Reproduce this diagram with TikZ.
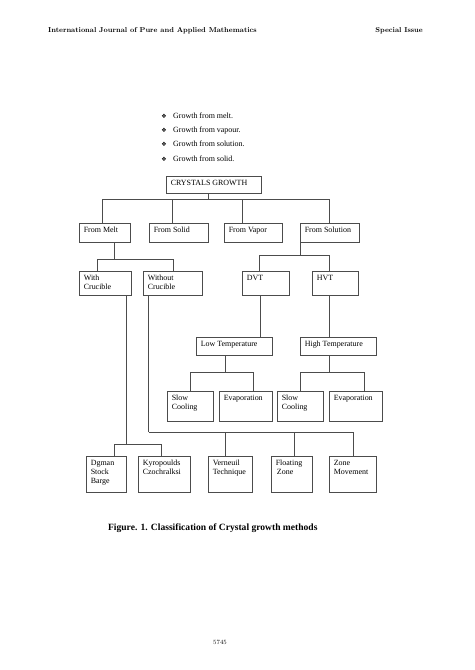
\documentclass[tikz,border=0pt]{standalone}
\usepackage{fontspec}
\newfontfamily\tms{Liberation Serif}
\newfontfamily\dvs{DejaVu Sans}
\usetikzlibrary{fit,calc}
\newdimen\pxu \pxu=1.2559pt
\newcommand\mybox[6]{%
  \node[boxst, fit={(#2,#3) (#4,#5)}] (#1) {};
  \node[txt] (#1-t) at ([xshift=5\pxu, yshift=-4.5\pxu]#1.north west) {#6};}
\begin{document}
\begin{tikzpicture}[x=1.2559pt,y=-1.2559pt,
  boxst/.style={draw=black!70, line width=0.9pt, inner sep=0pt},
  txt/.style={font=\tms\fontsize{10}{11.5}\selectfont, align=left, inner sep=0pt, anchor=north west},
  conn/.style={draw=black!70, line width=0.9pt},
  bul/.style={font=\dvs\fontsize{7.5}{8}\selectfont, inner sep=0pt, anchor=base},
  bultxt/.style={font=\tms\fontsize{10}{12}\selectfont, inner sep=0pt, anchor=base west}]
\useasboundingbox (0,0) rectangle (474,670);
\fill[white] (0,0) rectangle (474,670);
% header
\node[font=\fontsize{9}{11}\selectfont\bfseries, inner sep=0pt, anchor=base west] (hdl) at (48,33) {International Journal of Pure and Applied Mathematics};
\node[font=\fontsize{9}{11}\selectfont\bfseries, inner sep=0pt, anchor=base east] (hdr) at (423,33) {Special Issue};
% bullets
\node[bul] (b1) at (164,118.5) {❖};
\node[bultxt] (t1) at (173,118.5) {Growth from melt.};
\node[bul] (b2) at (164,132.7) {❖};
\node[bultxt] (t2) at (173,132.7) {Growth from vapour.};
\node[bul] (b3) at (164,146.9) {❖};
\node[bultxt] (t3) at (173,146.9) {Growth from solution.};
\node[bul] (b4) at (164,161.1) {❖};
\node[bultxt] (t4) at (173,161.1) {Growth from solid.};
% boxes
\mybox{cg}{166}{176}{261}{193}{CRYSTALS GROWTH}
\mybox{melt}{79}{223}{130}{242}{From Melt}
\mybox{solid}{149}{223}{208}{242}{From Solid}
\mybox{vapor}{224}{223}{282}{242}{From Vapor}
\mybox{solution}{300}{223}{359}{242}{From Solution}
\mybox{withc}{79}{271}{131}{295}{With\\Crucible}
\mybox{withoutc}{143}{271}{202}{295}{Without\\Crucible}
\mybox{dvt}{242}{271}{289}{295}{DVT}
\mybox{hvt}{312}{271}{358}{295}{HVT}
\mybox{lowt}{196}{337}{272}{355}{Low Temperature}
\mybox{hight}{300}{337}{376}{355}{High Temperature}
\mybox{slowa}{167}{391}{213}{421}{Slow\\Cooling}
\mybox{evapa}{219}{391}{272}{421}{Evaporation}
\mybox{slowb}{277}{391}{323}{421}{Slow\\Cooling}
\mybox{evapb}{329}{391}{382}{421}{Evaporation}
\mybox{dgman}{86}{456}{126}{492}{Dgman\\Stock\\Barge}
\mybox{kyro}{138}{456}{190}{492}{Kyropoulds\\Czochralksi}
\mybox{vern}{208}{456}{252}{492}{Verneuil\\Technique}
\mybox{float}{271}{456}{312}{492}{Floating\\\hspace{1.5pt}Zone}
\mybox{zone}{329}{456}{376}{492}{Zone\\Movement}
% connectors
\draw[conn] ([xshift=-5.5\pxu]cg.south) -- ++(0,6) coordinate (j0);
\draw[conn] ([xshift=-2.5\pxu]melt.north) |- (j0) -| ([xshift=-0.5\pxu]solution.north);
\draw[conn] ([xshift=-6.5\pxu]solid.north) |- (j0);
\draw[conn] ([xshift=-11\pxu]vapor.north) |- (j0);
\draw[conn] ([xshift=9.5\pxu]melt.south) -- ++(0,17) coordinate (j1);
\draw[conn] ([xshift=-8\pxu]withc.north) |- (j1) -| ([xshift=0.5\pxu]withoutc.north);
\draw[conn] ([xshift=1\pxu]solution.south west) -- ++(0,13) coordinate (j2);
\draw[conn] ([xshift=-6.5\pxu]dvt.north) |- (j2) -| ([xshift=-6\pxu]hvt.north);
\draw[conn] ([xshift=-5.5\pxu]dvt.south) -- ([xshift=-5.5\pxu]dvt.south |- lowt.north);
\draw[conn] ([xshift=-6\pxu]hvt.south) -- ([xshift=-6\pxu]hvt.south |- hight.north);
\draw[conn] ([xshift=-9\pxu]lowt.south) -- ++(0,17) coordinate (j3);
\draw[conn] (slowa.north) |- (j3) -| ([xshift=7.5\pxu]evapa.north);
\draw[conn] ([xshift=-9\pxu]hight.south) -- ++(0,17) coordinate (j4);
\draw[conn] (slowb.north) |- (j4) -| ([xshift=8.5\pxu]evapb.north);
\draw[conn] ([xshift=-5\pxu]withc.south east) -- ++(0,149) coordinate (j5);
\draw[conn] ([xshift=8\pxu]dgman.north) |- (j5) -| ([xshift=-3\pxu]kyro.north);
\draw[conn] ([xshift=6\pxu]withoutc.south west) -- ++(0,137) coordinate (j6);
\draw[conn] (j6) -| ([xshift=0.5\pxu]zone.north);
\draw[conn] ([xshift=-5\pxu]vern.north) -- ([xshift=-5\pxu]vern.north |- j6);
\draw[conn] ([xshift=2.5\pxu]float.north) -- ([xshift=2.5\pxu]float.north |- j6);
% caption
\node[font=\tms\bfseries\fontsize{12}{14}\selectfont, inner sep=0pt, anchor=base west] (cap) at (108,530) {Figure. 1. Classification of Crystal growth methods};
% page number
\node[font=\fontsize{8}{10}\selectfont, inner sep=0pt] (pg) at (220,642) {5745};
\end{tikzpicture}
\end{document}
